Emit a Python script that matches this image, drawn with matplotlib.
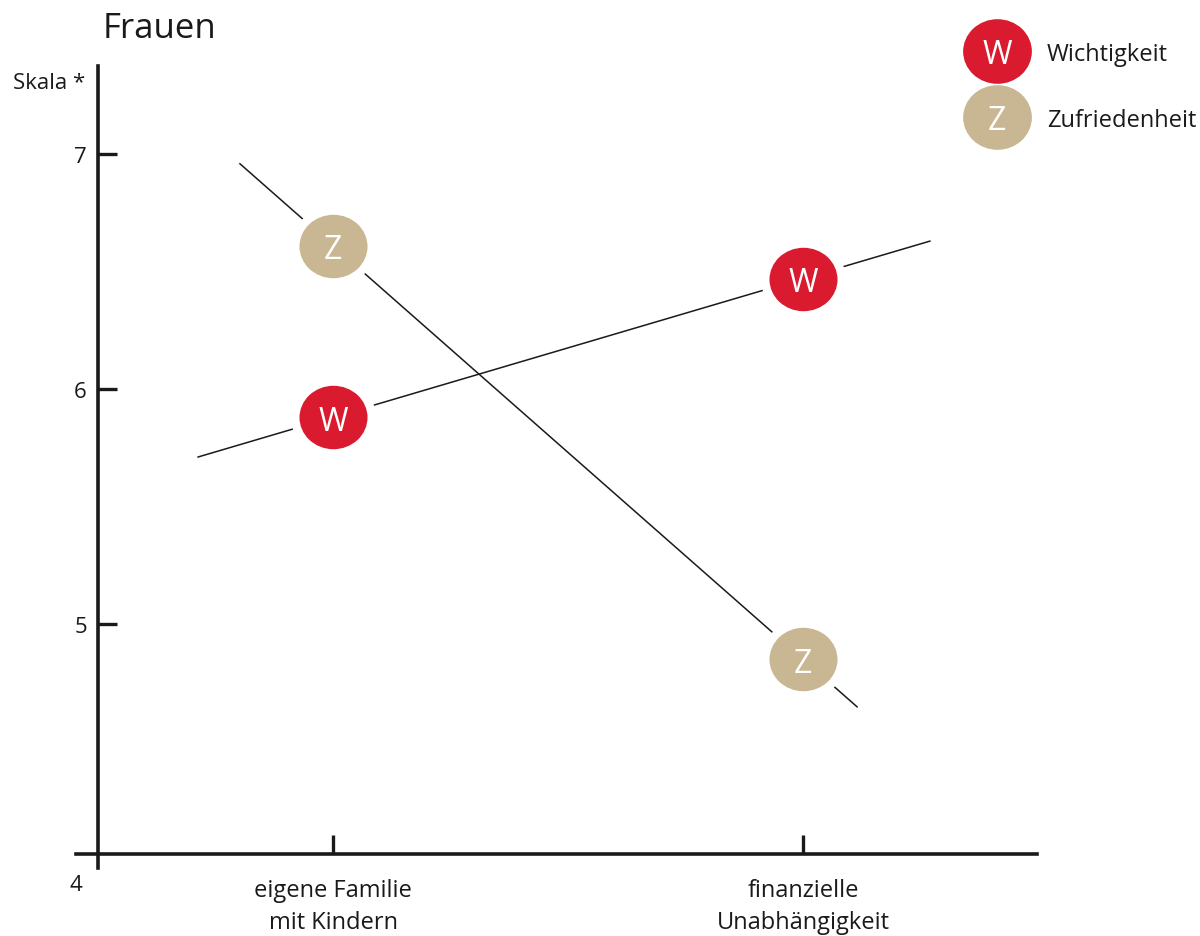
import numpy as np
import matplotlib.pyplot as plt
from matplotlib.path import Path

plt.rcParams['font.family'] = ['Open Sans', 'DejaVu Sans']

categories = ["eigene Familie\nmit Kindern", "finanzielle\nUnabhängigkeit"]
wichtigkeit = [5.88, 6.47]
zufriedenheit = [6.61, 4.85]
yticks = [5, 6, 7]

red = '#da1a2e'
tan = '#c9b692'
ink = '#1a1a1a'

# slightly flattened circle used as marker
circ = Path.unit_circle()
ellipse = Path(circ.vertices * [1.0, 0.94], circ.codes)

fig = plt.figure(figsize=(12, 9.37), dpi=100)
ax = fig.add_axes([69.8 / 1200, 0.0699, 968.2 / 1200, 810.5 / 937])
ax.set_xlim(-0.56, 1.5)
ax.set_ylim(3.951, 7.4)

x = np.arange(len(categories))


def trend(vals, x0, x1):
    # straight line through both points, extended past them
    xs = np.array([x0, x1])
    return xs, vals[0] + (vals[1] - vals[0]) * xs


xs, ys = trend(wichtigkeit, -0.287, 1.27)
ax.plot(xs, ys, color=ink, lw=1.1, zorder=2)
xs, ys = trend(zufriedenheit, -0.198, 1.115)
ax.plot(xs, ys, color=ink, lw=1.1, zorder=2)

for vals, col, letter in [(wichtigkeit, red, 'W'), (zufriedenheit, tan, 'Z')]:
    ax.plot(x, vals, ls='none', marker=ellipse, ms=55, mfc=col, mec='white',
            mew=6, zorder=3)
    for xi, v in zip(x, vals):
        ax.text(xi, v, letter, color='white', fontsize=23, ha='center',
                va='center_baseline', zorder=4)

# axes
for s in ['top', 'right']:
    ax.spines[s].set_visible(False)
ax.spines['left'].set_position(('data', -0.5))
ax.spines['bottom'].set_position(('data', 4.02))
ax.spines['left'].set_bounds(3.96, 7.374)
ax.spines['bottom'].set_bounds(-0.547, 1.498)
for s in ['left', 'bottom']:
    ax.spines[s].set_linewidth(2.6)
    ax.spines[s].set_color(ink)

ax.set_yticks(yticks)
ax.set_yticklabels([str(t) for t in yticks])
ax.set_xticks(x)
ax.set_xticklabels(categories, linespacing=1.45, fontsize=17)
ax.tick_params(axis='both', direction='in', length=13.5, width=2.4,
               color=ink, labelsize=16, labelcolor=ink)
ax.tick_params(axis='y', pad=8)
ax.tick_params(axis='x', pad=17, labelsize=17)
ax.annotate('4', xy=(-0.5, 4.02), xytext=(-16, -22), textcoords='offset points',
            ha='center', va='center', fontsize=16, color=ink)

fig.text(103 / 1200, 1 - 38 / 937, 'Frauen', fontsize=25, color=ink,
         va='baseline', ha='left')
fig.text(13 / 1200, 1 - 89 / 937, 'Skala *', fontsize=16, color=ink,
         va='baseline', ha='left')

# legend
for yc, col, letter, label in [(52, red, 'W', 'Wichtigkeit'),
                               (118, tan, 'Z', 'Zufriedenheit')]:
    fy = 1 - yc / 937
    fig.add_artist(plt.Line2D([997 / 1200], [fy], ls='none', marker=ellipse,
                              ms=49.5, mfc=col, mec='none'))
    fig.text(997 / 1200, fy, letter, color='white', fontsize=23, ha='center',
             va='center_baseline')
    fig.text(1047 / 1200, fy, label, color=ink, fontsize=17,
             ha='left', va='center_baseline')

fig.savefig('out.png', dpi=100)
